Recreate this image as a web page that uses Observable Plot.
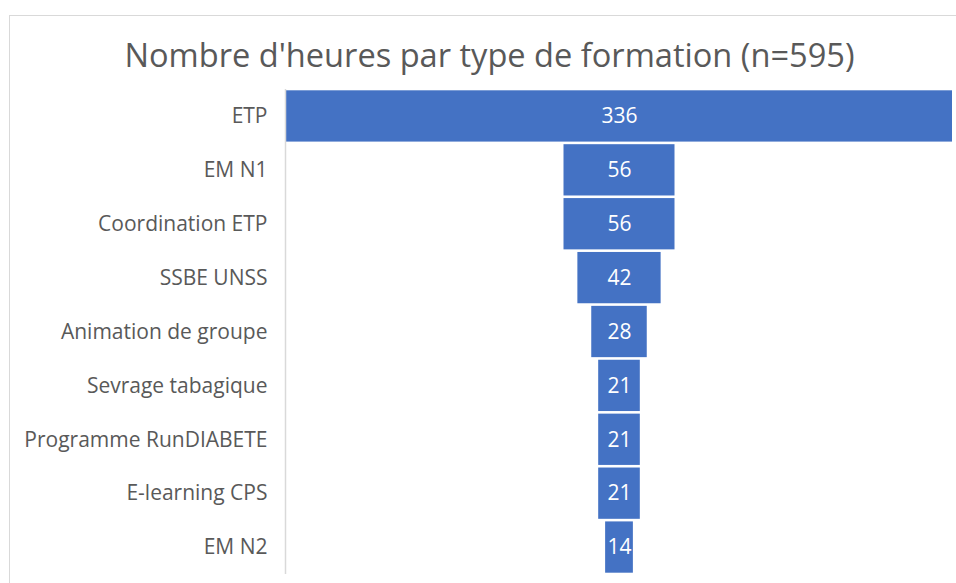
<!DOCTYPE html>
<html>
<head>
<meta charset="utf-8">
<script src="https://cdn.jsdelivr.net/npm/d3@7"></script>
<script src="https://cdn.jsdelivr.net/npm/@observablehq/plot@0.6"></script>
<style>
  html, body { margin: 0; padding: 0; background: #fff; overflow: hidden; }
  #wrap { position: relative; width: 956px; height: 583px; overflow: hidden; font-family: "Open Sans", sans-serif; }
  #frame { position: absolute; left: 9px; top: 15px; width: 1200px; height: 1200px; border: 1.5px solid #d9d9d9; box-sizing: border-box; }
  #title { position: absolute; left: 0; width: 979px; top: 39px; text-align: center; font-size: 32.6px; line-height: 32px; color: #595959; white-space: nowrap; }
  #chart { position: absolute; left: 0; top: 0; }
</style>
</head>
<body>
<div id="wrap">
  <div id="frame"></div>
  <div id="title">Nombre d'heures par type de formation (n=595)</div>
  <div id="chart"></div>
</div>
<script>
const categories = ["ETP", "EM N1", "Coordination ETP", "SSBE UNSS", "Animation de groupe", "Sevrage tabagique", "Programme RunDIABETE", "E-learning CPS", "EM N2"];
const hours = [336, 56, 56, 42, 28, 21, 21, 21, 14];

const data = categories.map((c, i) => ({name: c, value: hours[i]}));
const maxV = d3.max(hours);

const chart = Plot.plot({
  width: 956,
  height: 583,
  marginLeft: 286,
  marginRight: 4,
  marginTop: 89,
  marginBottom: 9,
  style: {fontFamily: "'Open Sans', sans-serif", color: "#595959", background: "transparent"},
  x: {domain: [-maxV / 2, maxV / 2], axis: null},
  y: {domain: categories, padding: 0, round: false, label: null, axis: null},
  marks: [
    Plot.barX(data, {x1: d => -d.value / 2, x2: d => d.value / 2, y: "name", fill: "#4472C4", insetTop: 1.3, insetBottom: 1.3}),
    Plot.text(data, {x: 0, y: "name", text: d => String(d.value), fill: "white", fontSize: 21}),
    Plot.axisY({tickSize: 0, tickPadding: 19, fontSize: 21, label: null}),
    Plot.ruleX([-maxV / 2], {stroke: "#d9d9d9", strokeWidth: 1.5, dx: -1})
  ]
});
document.getElementById("chart").appendChild(chart);
</script>
</body>
</html>
